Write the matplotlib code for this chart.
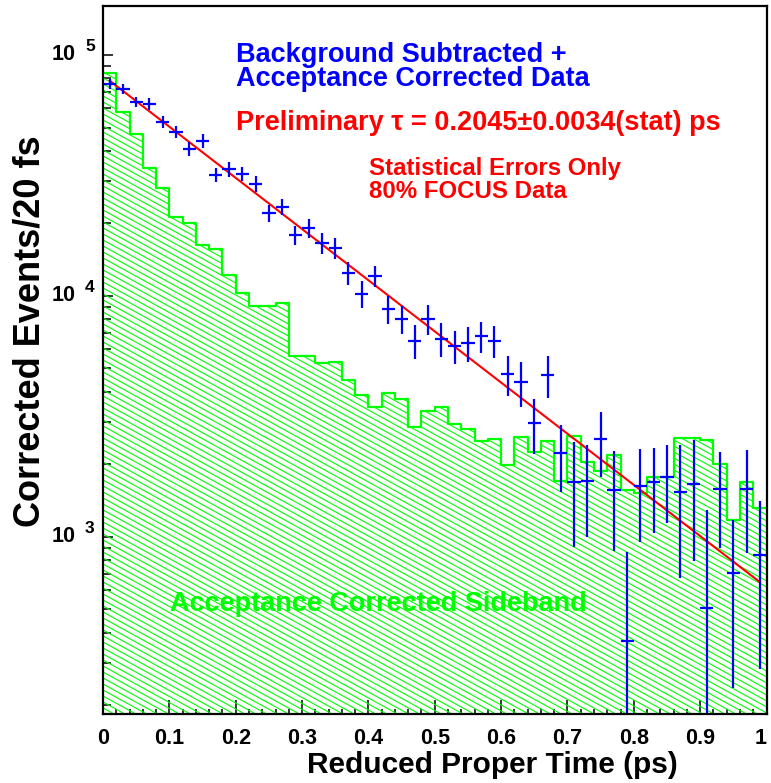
import matplotlib
matplotlib.use('Agg')
import matplotlib.pyplot as plt
import numpy as np
from matplotlib.collections import LineCollection
from matplotlib.patches import Polygon
from matplotlib.ticker import LogLocator, MultipleLocator, NullFormatter

plt.rcParams['font.family'] = ['Liberation Sans', 'DejaVu Sans']
plt.rcParams['font.weight'] = 'bold'

# 50 bins of 20 fs in reduced proper time
bin_edges = np.linspace(0.0, 1.0, 51)

# background subtracted + acceptance corrected signal, with statistical errors
signal = [75800, 72200, 64000, 62600, 52700, 47900, 40800, 44000, 31800, 33600,
          32100, 29200, 22000, 23500, 17900, 19100, 16600, 15800, 12500, 10200,
          12100, 8830, 8040, 6530, 8040, 6640, 6170, 6370, 6820, 6530,
          4740, 4380, 2960, 4700, 2220, 1690, 1700, 2540, 1570, 368,
          1630, 1690, 1780, 1540, 1660, 506, 1580, 706, 1580, 843]
signal_err = [3700, 3500, 3100, 3400, 3100, 2800, 2600, 2800, 2200, 2300,
              2200, 2200, 1750, 1850, 1600, 1700, 1650, 1580, 1350, 1280,
              1250, 1200, 1060, 1060, 1150, 1080, 950, 1030, 1000, 990,
              890, 920, 760, 935, 690, 786, 700, 770, 694, 500,
              677, 650, 635, 865, 867, 785, 678, 469, 720, 560]

# acceptance corrected sideband
sideband = [84500, 57800, 47000, 33900, 28000, 21300, 20000, 16300, 15600, 12200,
            10300, 9040, 9040, 9380, 5650, 5650, 5260, 5340, 4480, 3880,
            3450, 3970, 3730, 2870, 3340, 3470, 2950, 2800, 2510, 2560,
            1990, 2590, 2260, 2500, 1710, 2610, 2040, 1870, 2190, 1560,
            1520, 1780, 1780, 2570, 2580, 2530, 2000, 1170, 1690, 1320]

# lifetime fit
tau = 0.2045
fit_norm = 82160
fit_range = (0.01, 0.99)

x_ticks = [0, 0.1, 0.2, 0.3, 0.4, 0.5, 0.6, 0.7, 0.8, 0.9, 1]
x_tick_labels = ['0', '0.1', '0.2', '0.3', '0.4', '0.5', '0.6', '0.7', '0.8', '0.9', '1']
decades = [1e3, 1e4, 1e5]
decade_exps = ['3', '4', '5']

ymin, ymax = 184, 1.597e5

W, H = 771, 783
fig = plt.figure(figsize=(W / 100, H / 100), dpi=100)
ax = fig.add_axes([103 / W, 1 - 714 / H, 663.5 / W, 708 / H])
ax.set_xlim(0, 1)
ax.set_yscale('log')
ax.set_ylim(ymin, ymax)

green = '#00ff00'

# sideband histogram: hatched fill clipped to the step outline
side = np.array(sideband, dtype=float)
xs = np.repeat(bin_edges, 2)[1:-1]
ys = np.repeat(side, 2)
verts = [(0, ymin)] + list(zip(xs, ys)) + [(1, ymin)]
fill = Polygon(verts, closed=True, facecolor='none', edgecolor='none')
ax.add_patch(fill)

slope = 0.55 * 663.5 / 708
step = 6.0 / 708
offsets = np.arange(0, 1 + slope + step, step)
segs = [[(0, c), (1, c - slope)] for c in offsets]
hatch = LineCollection(segs, colors=green, linewidths=0.8, transform=ax.transAxes)
hatch.set_clip_path(fill)
ax.add_collection(hatch)

ax.step(bin_edges, np.append(side, side[-1]), where='post', color=green, lw=1.6)

# fit curve
tt = np.linspace(fit_range[0], fit_range[1], 200)
ax.plot(tt, fit_norm * np.exp(-tt / tau), color='red', lw=1.5)

# data points with errors
centers = 0.5 * (bin_edges[:-1] + bin_edges[1:])
sig = np.array(signal, dtype=float)
err = np.array(signal_err, dtype=float)
lower = np.minimum(err, sig - 1)
ax.errorbar(centers, sig, yerr=[lower, err], xerr=0.01, fmt='none',
            ecolor='blue', elinewidth=1.6, capsize=0)

# axes styling
for sp in ax.spines.values():
    sp.set_linewidth(1.6)
ax.xaxis.set_minor_locator(MultipleLocator(0.02))
ax.set_xticks(x_ticks)
ax.set_xticklabels(x_tick_labels, fontsize=15.5, fontweight='bold')
ax.get_xticklabels()[-1].set_horizontalalignment('right')
ax.get_xticklabels()[-1].set_x(1.0)
ax.tick_params(axis='x', which='major', direction='in', length=10, width=1.1, pad=10)
ax.tick_params(axis='x', which='minor', direction='in', length=3.6, width=1.1)
ax.yaxis.set_major_locator(LogLocator(base=10, numticks=10))
ax.yaxis.set_minor_locator(LogLocator(base=10, subs=np.arange(2, 10), numticks=20))
ax.yaxis.set_major_formatter(NullFormatter())
ax.yaxis.set_minor_formatter(NullFormatter())
ax.tick_params(axis='y', which='major', direction='in', length=7.5, width=1.1)
ax.tick_params(axis='y', which='minor', direction='in', length=5.5, width=1.1)

for val, ex in zip(decades, decade_exps):
    ax.annotate('10', xy=(0, val), xycoords=('axes fraction', 'data'),
                xytext=(-27, 0), textcoords='offset pixels',
                ha='right', va='center', fontsize=15.5, fontweight='bold')
    ax.annotate(ex, xy=(0, val), xycoords=('axes fraction', 'data'),
                xytext=(-18, 8), textcoords='offset pixels',
                ha='left', va='center', fontsize=12.5, fontweight='bold')

fig.text(678 / W, 1 - 773 / H, 'Reduced Proper Time (ps)', ha='right', va='baseline',
         fontsize=21.5, fontweight='bold')
fig.text(30 / W, 1 - 331 / H, 'Corrected Events/20 fs', rotation=90, ha='center',
         va='center', fontsize=26, fontweight='bold')

fig.text(236 / W, 1 - 62 / H, 'Background Subtracted +', color='blue',
         fontsize=19.5, fontweight='bold', va='baseline')
fig.text(236 / W, 1 - 86 / H, 'Acceptance Corrected Data', color='blue',
         fontsize=19.5, fontweight='bold', va='baseline')
fig.text(236 / W, 1 - 130 / H, 'Preliminary \u03c4 = 0.2045\u00b10.0034(stat) ps',
         color='red', fontsize=19.5, fontweight='bold', va='baseline')
fig.text(369 / W, 1 - 175 / H, 'Statistical Errors Only', color='red',
         fontsize=17.3, fontweight='bold', va='baseline')
fig.text(369 / W, 1 - 198 / H, '80% FOCUS Data', color='red',
         fontsize=17.3, fontweight='bold', va='baseline')
fig.text(170 / W, 1 - 611 / H, 'Acceptance Corrected Sideband', color=green,
         fontsize=19.5, fontweight='bold', va='baseline')

fig.savefig('out.png', dpi=100)
